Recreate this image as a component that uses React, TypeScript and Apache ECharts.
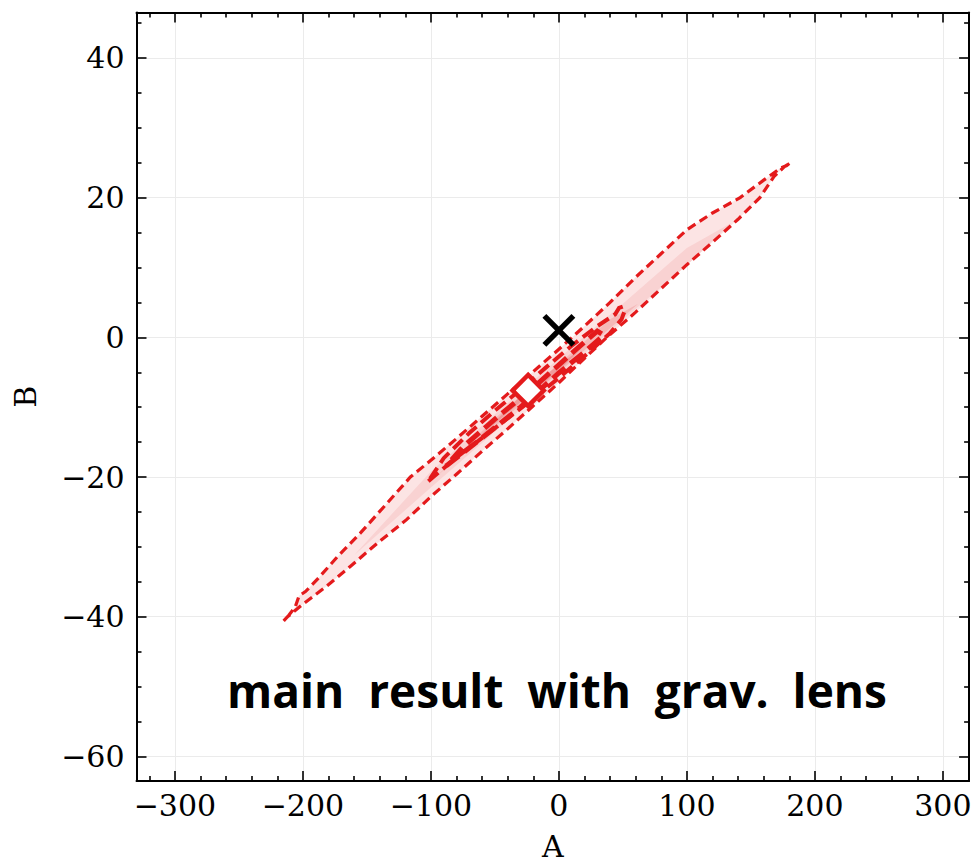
import React, { useEffect, useRef } from "react";
import * as echarts from "echarts";

// ---- axis ranges & ticks ----
const X_MIN = -330;
const X_MAX = 320.5;
const Y_MIN = -63.5;
const Y_MAX = 46.5;
const X_MAJOR = [-300, -200, -100, 0, 100, 200, 300];
const X_MINOR = [-320, -280, -260, -240, -220, -180, -160, -140, -120, -80, -60, -40, -20, 20, 40, 60, 80, 120, 140, 160, 180, 220, 240, 260, 280, 320];
const Y_MAJOR = [-60, -40, -20, 0, 20, 40];
const Y_MINOR = [-55, -50, -45, -35, -30, -25, -15, -10, -5, 5, 10, 15, 25, 30, 35, 45];

// ---- contour outlines (A, B) ----
const OUTER_CONTOUR: number[][] = [
  [-215, -40.6], [-212, -40.0], [-200, -38.2], [-182, -35.7], [-163, -32.8], [-142, -29.5],
  [-119, -26.1], [-100, -22.8], [-80, -19.6], [-60, -16.3], [-40, -13.1], [-20, -9.8],
  [0, -6.5], [20, -3.0], [37.5, 0], [60, 3.6], [80, 7.0], [100, 10.4], [120, 13.6],
  [140, 16.9], [157, 20], [168, 23.0], [176, 24.4], [181, 25.0],
  [178, 24.6], [173, 24.2], [160, 22.5], [141.6, 20], [120, 17.8], [100, 15.4],
  [80, 12.0], [60, 8.6], [40, 5.0], [20, 1.6], [0, -1.7], [-20, -4.9], [-40, -8.1],
  [-60, -11.3], [-80, -14.5], [-100, -17.6], [-116, -20], [-134, -23.7], [-155, -28.0],
  [-173, -31.4], [-189, -34.7], [-198, -36.4], [-203, -37.0], [-206, -38.6], [-211, -39.8]
];
const MID_CONTOUR: number[][] = [
  [-102, -20.6], [-80, -17.2], [-50, -13.0], [-20, -8.8], [0, -5.8], [20, -2.7], [40, 0.6],
  [49, 2.6], [51, 3.6], [50, 4.4], [47, 4.2], [44, 3.3], [30, 1.6], [10, -1.2], [-10, -4.3],
  [-30, -7.5], [-50, -10.5], [-70, -13.7], [-90, -17.3]
];
const INNER_CONTOUR: number[][] = [
  [-88, -18.4], [-60, -14.4], [-30, -10.0], [0, -5.1], [20, -2.1], [35, 0.3],
  [30, 0.9], [10, -2.3], [-20, -7.2], [-50, -11.7], [-75, -15.7]
];

// ---- density shading bands ----
const FILL_MID: number[][] = [
  [-160, -31.2], [-100, -21.5], [-50, -13.5], [0, -5.5], [50, 2.5], [100, 10.3], [135, 16.4],
  [100, 12.8], [50, 4.8], [0, -3.0], [-50, -11.0], [-100, -19.2]
];
const FILL_INNER: number[][] = [
  [-95, -19.8], [-50, -12.8], [0, -5.0], [40, 1.3], [62, 4.8],
  [40, 2.6], [0, -3.8], [-50, -11.6]
];
const FILL_CORE: number[][] = [
  [-62, -14.2], [-30, -9.3], [0, -4.7], [18, -1.6], [0, -3.9], [-30, -8.4]
];

// ---- markers ----
const BEST_FIT = [[-24, -7.6]];
const TRUTH = [[0, 1]];

const LABEL_TEXT = "main\u00a0 result\u00a0 with\u00a0 grav.\u00a0 lens";

const RED = "#e41a1c";

const fmt = (v: number) => (v < 0 ? "\u2212" + Math.abs(v) : String(v));

function polySeries(points: number[][], style: any, z: number) {
  return {
    type: "custom",
    coordinateSystem: "cartesian2d",
    xAxisIndex: 0,
    yAxisIndex: 0,
    data: [points[0]],
    clip: true,
    silent: true,
    z,
    renderItem: (_p: any, api: any) => ({
      type: "polygon",
      shape: { points: points.map((pt) => api.coord(pt)) },
      style,
    }),
  };
}

function xAxes() {
  const base = { type: "value", min: X_MIN, max: X_MAX, gridIndex: 0 };
  const mk = (position: string, values: number[], len: number, major: boolean, line: boolean) => ({
    ...base,
    position,
    axisLine: { show: line, onZero: false, lineStyle: { color: "#000", width: 2 } },
    axisTick: { show: true, inside: true, length: len, customValues: values, lineStyle: { color: "#000", width: 1.6 } },
    axisLabel: major && position === "bottom"
      ? { show: true, customValues: values, formatter: fmt, fontFamily: "DejaVu Serif", fontSize: 30, color: "#000", margin: 10 }
      : { show: false },
    splitLine: major && position === "bottom" ? { show: true, lineStyle: { color: "#ebebeb", width: 1 } } : { show: false },
    ...(major && position === "bottom"
      ? { name: "A", nameLocation: "middle", nameGap: 51, nameTextStyle: { fontFamily: "DejaVu Serif", fontSize: 30, color: "#000" } }
      : {}),
  });
  return [
    mk("bottom", X_MAJOR, 10, true, true),
    mk("bottom", X_MINOR, 5, false, false),
    mk("top", X_MAJOR, 10, true, true),
    mk("top", X_MINOR, 5, false, false),
  ];
}

function yAxes() {
  const base = { type: "value", min: Y_MIN, max: Y_MAX, gridIndex: 0 };
  const mk = (position: string, values: number[], len: number, major: boolean, line: boolean) => ({
    ...base,
    position,
    axisLine: { show: line, onZero: false, lineStyle: { color: "#000", width: 2 } },
    axisTick: { show: true, inside: true, length: len, customValues: values, lineStyle: { color: "#000", width: 1.6 } },
    axisLabel: major && position === "left"
      ? { show: true, customValues: values, formatter: fmt, fontFamily: "DejaVu Serif", fontSize: 30, color: "#000", margin: 12 }
      : { show: false },
    splitLine: major && position === "left" ? { show: true, lineStyle: { color: "#ebebeb", width: 1 } } : { show: false },
    ...(major && position === "left"
      ? { name: "B", nameLocation: "middle", nameGap: 96, nameTextStyle: { fontFamily: "DejaVu Serif", fontSize: 30, color: "#000" } }
      : {}),
  });
  return [
    mk("left", Y_MAJOR, 10, true, true),
    mk("left", Y_MINOR, 5, false, false),
    mk("right", Y_MAJOR, 10, true, true),
    mk("right", Y_MINOR, 5, false, false),
  ];
}

export default function App() {
  const ref = useRef<HTMLDivElement>(null);
  useEffect(() => {
    if (!ref.current) return;
    const chart = echarts.init(ref.current, null, { renderer: "svg" });
    const option: any = {
      animation: false,
      backgroundColor: "#fff",
      grid: { left: 136.5, top: 12.5, width: 832.6, height: 768.4, containLabel: false, outerBoundsMode: "none" },
      xAxis: xAxes(),
      yAxis: yAxes(),
      graphic: [
        {
          type: "text",
          x: 557,
          y: 690,
          z: 100,
          style: {
            text: LABEL_TEXT,
            fontSize: 46,
            fontWeight: "bold",
            fontFamily: "Open Sans",
            fill: "#000",
            align: "center",
            verticalAlign: "middle",
          },
        },
      ],
      series: [
        polySeries(OUTER_CONTOUR, { fill: "#fce4e4", stroke: "none" }, 1),
        polySeries(FILL_MID, { fill: "#f9d2d2", stroke: "none" }, 2),
        polySeries(FILL_INNER, { fill: "#f5b8b8", stroke: "none" }, 3),
        polySeries(FILL_CORE, { fill: "#ef9a9a", stroke: "none" }, 4),
        polySeries(OUTER_CONTOUR, { fill: "none", stroke: RED, lineWidth: 3.2, lineDash: [9, 5] }, 5),
        polySeries(MID_CONTOUR, { fill: "none", stroke: RED, lineWidth: 4, lineDash: [13, 6] }, 6),
        polySeries(INNER_CONTOUR, { fill: "none", stroke: RED, lineWidth: 5, lineDash: [16, 7] }, 7),
        {
          type: "scatter",
          xAxisIndex: 0,
          yAxisIndex: 0,
          data: BEST_FIT,
          symbol: "rect",
          symbolSize: 22,
          symbolRotate: 45,
          itemStyle: { color: "#fff", borderColor: RED, borderWidth: 4.5, opacity: 1 },
          z: 10,
          silent: true,
        },
        {
          type: "custom",
          coordinateSystem: "cartesian2d",
          xAxisIndex: 0,
          yAxisIndex: 0,
          data: TRUTH,
          z: 11,
          silent: true,
          renderItem: (params: any, api: any) => {
            const c = api.coord([api.value(0), api.value(1)]);
            const h = 14.5;
            const st = { stroke: "#000", lineWidth: 5.5, lineCap: "butt" };
            return {
              type: "group",
              children: [
                { type: "line", shape: { x1: c[0] - h, y1: c[1] - h, x2: c[0] + h, y2: c[1] + h }, style: st },
                { type: "line", shape: { x1: c[0] - h, y1: c[1] + h, x2: c[0] + h, y2: c[1] - h }, style: st },
              ],
            };
          },
        },
      ],
    };
    chart.setOption(option);
    return () => chart.dispose();
  }, []);
  return <div ref={ref} style={{ position: "absolute", left: 0, top: 0, width: 975, height: 863 }} />;
}
